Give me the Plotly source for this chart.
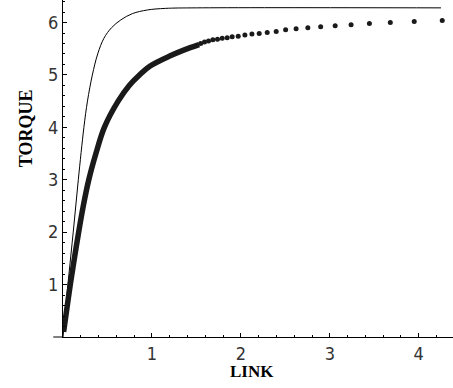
import plotly.graph_objects as go

# Thin curve
thin_x = [0, 0.055, 0.115, 0.172, 0.235, 0.275, 0.33, 0.39, 0.46, 0.545, 0.65, 0.78, 0.95, 1.15, 1.5, 4.25]
thin_y = [0, 1.0, 2.0, 3.0, 4.0, 4.5, 5.0, 5.4, 5.7, 5.9, 6.05, 6.17, 6.24, 6.27, 6.28, 6.28]

# Dense part of the dotted series (dots merge into a thick band)
dense_x = [0.007, 0.045, 0.082, 0.128, 0.176, 0.228, 0.29, 0.37, 0.465, 0.62, 0.745, 0.86, 0.98, 1.20, 1.43, 1.53]
dense_y = [0.10, 0.56, 1.00, 1.50, 2.00, 2.50, 3.00, 3.50, 4.00, 4.50, 4.80, 5.00, 5.17, 5.36, 5.52, 5.58]

# Separate dots
dot_x = [1.548, 1.591, 1.636, 1.685, 1.737, 1.790, 1.846, 1.902, 1.970, 2.045, 2.124, 2.206, 2.296,
         2.397, 2.503, 2.621, 2.753, 2.897, 3.060, 3.239, 3.445, 3.680, 3.949, 4.264]
dot_y = [5.60, 5.63, 5.65, 5.67, 5.68, 5.70, 5.71, 5.73, 5.74, 5.76, 5.78, 5.79, 5.81,
         5.83, 5.86, 5.88, 5.90, 5.92, 5.94, 5.96, 5.98, 6.00, 6.02, 6.04]

x_ticks = [1, 2, 3, 4]
y_ticks = [1, 2, 3, 4, 5, 6]

fig = go.Figure()
fig.add_trace(go.Scatter(x=thin_x, y=thin_y, mode="lines",
                         line=dict(color="black", width=1, shape="spline", smoothing=1.0), hoverinfo="skip"))
fig.add_trace(go.Scatter(x=dense_x, y=dense_y, mode="lines",
                         line=dict(color="#1a1a1a", width=5.5, shape="spline", smoothing=1.0), hoverinfo="skip"))
fig.add_trace(go.Scatter(x=dot_x, y=dot_y, mode="markers",
                         marker=dict(color="#1a1a1a", size=5), hoverinfo="skip"))

tickfont = dict(family="Liberation Sans Narrow, DejaVu Sans Condensed, Roboto Condensed, Liberation Sans",
                size=18, color="#333")

fig.update_layout(
    width=453, height=388,
    margin=dict(l=63, r=0, t=0, b=51),
    paper_bgcolor="white", plot_bgcolor="white",
    showlegend=False,
    xaxis=dict(range=[0, 4.385], showgrid=False, zeroline=False, automargin=False,
               showline=True, linecolor="black", linewidth=1,
               tickvals=x_ticks, ticktext=[str(v) for v in x_ticks],
               ticks="inside", ticklen=4, tickcolor="black", tickfont=tickfont,
               minor=dict(dtick=0.2, tick0=0, ticks="inside", ticklen=2, tickcolor="black")),
    yaxis=dict(range=[0, 6.43], showgrid=False, zeroline=False, automargin=False,
               showline=True, linecolor="black", linewidth=1,
               tickvals=y_ticks, ticktext=[str(v) for v in y_ticks],
               ticks="inside", ticklen=4, tickcolor="black", tickfont=tickfont,
               minor=dict(dtick=0.2, tick0=0, ticks="inside", ticklen=2, tickcolor="black")),
    shapes=[dict(type="line", xref="paper", yref="paper", x0=-0.025, x1=0, y0=0, y1=0,
                 line=dict(color="black", width=1))],
    annotations=[
        dict(text="<b>LINK</b>", xref="x", yref="paper", x=2.124, y=-0.103,
             xanchor="center", yanchor="middle", showarrow=False,
             font=dict(family="Liberation Serif, Times New Roman, serif", size=17, color="black")),
        dict(text="<b>TORQUE</b>", xref="paper", yref="y", x=-0.093, y=3.98,
             xanchor="center", yanchor="middle", showarrow=False, textangle=-90,
             font=dict(family="Liberation Serif, Times New Roman, serif", size=18, color="black")),
    ],
)

fig.write_html("out.html", config={"displayModeBar": False},
               post_script="document.body.style.margin='0';document.body.style.padding='0';")
